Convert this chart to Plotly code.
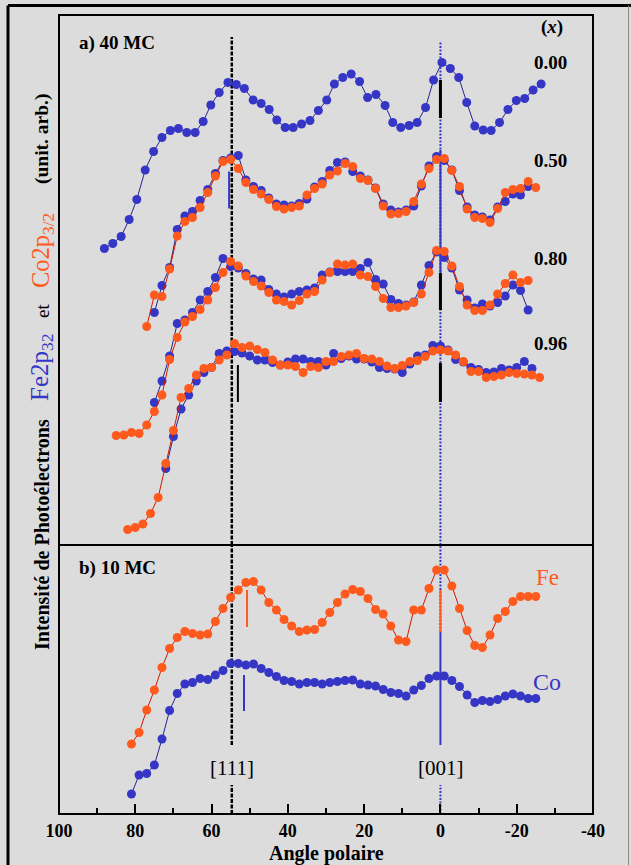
import plotly.graph_objects as go

# ---------------------------------------------------------------
# Polar-angle scans of Fe2p3/2 and Co2p3/2 photoelectron intensity
# ---------------------------------------------------------------

# a) 40 MC, x = 0.00 (Fe only)
ang_000 = [88.1, 85.9, 83.7, 81.6, 79.6, 77.4, 75.2, 73.0, 70.8, 68.7,
           66.5, 64.3, 62.2, 60.2, 58.0, 55.7, 53.5, 51.4, 49.1, 47.0,
           44.9, 42.9, 40.7, 38.6, 36.4, 34.2, 32.0, 29.8, 27.8, 25.6,
           23.4, 21.2, 19.1, 16.9, 14.5, 12.5, 10.4, 8.2, 6.1, 3.9,
           1.8, -0.4, -2.6, -4.8, -6.9, -9.0, -11.2, -13.3, -15.5, -17.7,
           -19.9, -22.1, -24.3, -26.4]
fe_000 = [59.3, 60.3, 61.7, 65.1, 69.1, 75.0, 78.7, 81.5, 82.9, 83.3,
          82.5, 82.5, 84.7, 88.0, 90.5, 92.5, 92.1, 91.3, 89.0, 88.3,
          87.1, 85.0, 83.5, 83.5, 84.2, 84.9, 86.9, 89.0, 92.2, 93.5,
          94.2, 92.7, 89.5, 90.1, 87.9, 84.5, 83.5, 83.9, 84.5, 87.5,
          93.0, 96.5, 95.3, 93.5, 88.5, 83.8, 83.0, 82.9, 84.5, 87.1,
          88.9, 89.3, 91.0, 92.2]

# x = 0.50
ang_050_co = [77, 75, 73, 71, 69, 67, 65, 63, 61, 59, 57, 55, 53, 51, 49, 47, 45, 43,
              41, 39, 37, 35, 33, 31, 29, 27, 25, 23, 21, 19, 17, 15, 13, 11, 9, 7,
              5, 3, 1, -1, -3, -5, -7, -9, -11, -13, -15, -17, -19, -21, -23, -25]
co_050 = [43.7, 50.0, 49.7, 55.2, 61.8, 64.7, 65.5, 67.5, 70.5, 73.8,
          76.7, 77.1, 75.3, 72.5, 71.1, 70.2, 69.1, 67.7, 67.2, 67.5,
          67.8, 70.0, 71.3, 72.2, 74.0, 74.8, 76.3, 75.7, 73.3, 72.9,
          71.3, 67.8, 66.2, 66.3, 66.7, 68.7, 72.2, 75.3, 77.1, 77.3,
          74.9, 71.7, 67.2, 65.5, 65.3, 64.5, 67.3, 70.5, 71.1, 71.3,
          72.7, 71.5]
ang_050_fe = [75, 73, 71, 69, 67, 65, 63, 61, 59, 57, 55, 53, 51, 49, 47, 45, 43,
              41, 39, 37, 35, 33, 31, 29, 27, 25, 23, 21, 19, 17, 15, 13, 11, 9, 7,
              5, 3, 1, -1, -3, -5, -7, -9, -11, -13, -15, -17, -19, -21, -23]
fe_050 = [46.5, 51.9, 55.5, 63.1, 65.8, 66.7, 68.9, 71.1, 74.3, 76.9,
          77.4, 77.9, 73.0, 71.7, 70.9, 69.4, 68.2, 68.0, 67.8, 68.3,
          69.2, 71.6, 72.7, 74.9, 76.5, 76.6, 74.7, 73.8, 73.0, 71.4,
          68.2, 67.0, 66.6, 67.0, 67.8, 71.8, 75.8, 77.7, 76.9, 75.0,
          70.9, 67.6, 66.0, 65.6, 65.0, 67.6, 68.7, 70.2, 70.0, 71.7]

# x = 0.80
ang_080_co = [85, 83, 81, 79, 77, 75, 73, 71, 69, 67, 65, 63, 61, 59, 57, 55, 53, 51,
              49, 47, 45, 43, 41, 39, 37, 35, 33, 31, 29, 27, 25, 23, 21, 19, 17, 15,
              13, 11, 9, 7, 5, 3, 1, -1, -3, -5, -7, -9, -11, -13, -15, -17, -19, -21, -23]
co_080 = [21.9, 22.0, 22.5, 22.3, 24.0, 26.7, 30.0, 37.1, 41.5, 44.6,
          45.7, 47.1, 49.0, 51.5, 54.5, 56.7, 55.8, 53.8, 52.7, 51.8,
          50.5, 49.0, 48.7, 48.0, 48.9, 50.2, 50.7, 53.0, 54.5, 56.2,
          56.0, 56.2, 54.0, 53.7, 51.7, 49.3, 47.5, 47.5, 47.8, 48.5,
          50.2, 54.5, 58.9, 58.7, 55.8, 51.7, 48.0, 46.9, 46.9, 48.0,
          50.2, 52.3, 54.0, 52.5, 52.9]
ang_080_fe = [75, 73, 71, 69, 67, 65, 63, 61, 59, 57, 55, 53, 51, 49, 47, 45, 43,
              41, 39, 37, 35, 33, 31, 29, 27, 25, 23, 21, 19, 17, 15, 13, 11, 9, 7,
              5, 3, 1, -1, -3, -5, -7, -9, -11, -13, -15, -17, -19, -21, -23]
fe_080 = [28.5, 32.8, 37.8, 44.3, 45.0, 46.5, 49.0, 50.7, 53.5, 57.3,
          55.7, 55.4, 54.3, 53.2, 53.0, 51.1, 50.2, 49.6, 50.2, 50.7,
          51.0, 51.4, 54.0, 54.6, 54.7, 54.7, 54.7, 55.3, 56.5, 53.1,
          52.2, 49.1, 48.3, 48.0, 48.6, 52.0, 55.9, 58.6, 57.5, 55.4,
          51.0, 49.0, 47.4, 48.2, 47.8, 48.5, 49.8, 52.0, 50.9, 47.0]

# x = 0.96
ang_096_co = [82, 80, 78, 76, 74, 72, 70, 68, 66, 64, 62, 60, 58, 56, 54, 52, 50, 48,
              46, 44, 42, 40, 38, 36, 34, 32, 30, 28, 26, 24, 22, 20, 18, 16, 14, 12,
              10, 8, 6, 4, 2, 0, -2, -4, -6, -8, -10, -12, -14, -16, -18, -20, -22, -24, -26]
co_096 = [3.1, 3.5, 4.2, 6.3, 9.5, 16.3, 22.9, 29.5, 31.3, 34.0,
          35.3, 35.5, 37.0, 38.0, 40.3, 39.5, 39.8, 39.1, 38.5, 37.0,
          36.0, 36.0, 35.7, 34.5, 35.7, 35.5, 36.7, 36.7, 37.7, 38.0,
          38.3, 37.3, 37.2, 36.7, 35.8, 35.3, 35.9, 36.7, 36.9, 37.7,
          38.8, 39.0, 38.8, 38.0, 36.7, 34.7, 34.7, 33.5, 33.7, 34.0,
          34.5, 34.3, 34.2, 34.0, 33.5]
ang_096_fe = [72, 70, 68, 66, 64, 62, 60, 58, 56, 54, 52, 50, 48, 46, 44, 42, 40, 38,
              36, 34, 32, 30, 28, 26, 24, 22, 20, 18, 16, 14, 12, 10, 8, 6, 4, 2, 0,
              -2, -4, -6, -8, -10, -12, -14, -16, -18, -20, -22, -24]
fe_096 = [15.3, 21.7, 27.2, 30.0, 32.8, 34.5, 35.5, 38.3, 38.8, 38.7,
          38.4, 37.8, 37.0, 37.0, 36.5, 36.0, 36.6, 37.2, 37.2, 36.7,
          36.7, 36.0, 38.3, 37.3, 37.8, 37.2, 37.2, 36.6, 35.5, 35.3,
          35.2, 34.5, 36.2, 37.8, 38.0, 39.9, 39.8, 39.0, 37.1, 36.6,
          35.5, 35.1, 34.5, 34.6, 35.3, 35.0, 35.5, 36.7, 35.3]

# b) 10 MC
ang_b = [81, 79, 77, 75, 73, 71, 69, 67, 65, 63, 61, 59, 57, 55, 53, 51, 49, 47,
         45, 43, 41, 39, 37, 35, 33, 31, 29, 27, 25, 23, 21, 19, 17, 15, 13, 11,
         9, 7, 5, 3, 1, -1, -3, -5, -7, -9, -11, -13, -15, -17, -19, -21, -23, -25]
fe_b = [14.0, 16.3, 20.8, 24.8, 29.3, 33.1, 35.3, 36.5, 36.1, 35.8,
        36.0, 38.5, 41.1, 43.3, 44.8, 46.3, 46.5, 44.8, 42.3, 40.8,
        38.9, 37.6, 36.5, 36.8, 36.9, 38.3, 40.3, 42.3, 44.0, 44.9,
        44.5, 43.1, 40.9, 40.0, 37.6, 34.8, 34.5, 40.8, 40.8, 45.1,
        48.8, 48.8, 45.6, 41.1, 36.7, 33.7, 33.3, 35.8, 39.1, 40.5,
        42.5, 43.5, 43.5, 43.5]
co_b = [4.0, 7.8, 8.1, 9.8, 15.0, 20.7, 24.1, 26.0, 26.3, 27.1,
        26.9, 27.8, 28.7, 30.1, 30.1, 29.8, 30.0, 29.1, 28.3, 27.5,
        26.7, 26.5, 26.0, 26.3, 26.3, 26.0, 26.3, 26.5, 26.7, 26.8,
        26.0, 25.8, 25.6, 24.9, 24.3, 24.1, 23.6, 24.8, 25.7, 27.1,
        27.6, 27.6, 26.7, 25.5, 23.8, 22.3, 22.7, 22.5, 22.9, 23.6,
        24.0, 23.6, 23.1, 23.1]

# crystallographic directions (polar angle) and composition labels
dir_angles = [54.7, 0.0]
dir_labels = ["[111]", "[001]"]
compositions = ["0.00", "0.50", "0.80", "0.96"]
x_ticks = [100, 80, 60, 40, 20, 0, -20, -40]

# short peak-position bars
peak_bars_angle = [55.4, 53.1, 50.7, 51.5]
peak_bars_low = [67.3, 28.6, 37.4, 20.6]
peak_bars_high = [74.7, 36.0, 44.8, 27.8]
# intensity windows of solid segments drawn on the [001] direction in panel a
dir001_black_low = [85.4, 47.0, 28.6]
dir001_black_high = [93.0, 54.4, 36.4]

BLUE = "#3636c6"
BLUE_LINE = "#25258f"
ORANGE = "#ff5a1e"
ORANGE_LINE = "#d01a00"
BG = "#dcdcdc"
SERIF = "Liberation Serif"

# plot geometry (pixels)
W, H = 631, 865
L, R, T, B = 59, 38, 15, 51
PW, PH = W - L - R, H - T - B
SPLIT = 269 / PH  # height fraction of panel b


def px(xp):
    return (xp - L) / PW


def py(yp):
    return (H - B - yp) / PH


fig = go.Figure()


def add_series(x, y, color, lcolor, axis):
    fig.add_trace(go.Scatter(
        x=x, y=y, mode="lines+markers", yaxis=axis, showlegend=False,
        line=dict(color=lcolor, width=1),
        marker=dict(color=color, size=9, line=dict(width=0)),
        cliponaxis=False,
    ))


add_series(ang_000, fe_000, BLUE, BLUE_LINE, "y")
add_series(ang_050_fe, fe_050, BLUE, BLUE_LINE, "y")
add_series(ang_050_co, co_050, ORANGE, ORANGE_LINE, "y")
add_series(ang_080_fe, fe_080, BLUE, BLUE_LINE, "y")
add_series(ang_080_co, co_080, ORANGE, ORANGE_LINE, "y")
add_series(ang_096_fe, fe_096, BLUE, BLUE_LINE, "y")
add_series(ang_096_co, co_096, ORANGE, ORANGE_LINE, "y")
add_series(ang_b, co_b, BLUE, BLUE_LINE, "y2")
add_series(ang_b, fe_b, ORANGE, ORANGE_LINE, "y2")

shapes = []


def vline(x, y0, y1, yref, color, width, dash="solid"):
    shapes.append(dict(type="line", xref="x", yref=yref, x0=x, x1=x, y0=y0, y1=y1,
                       line=dict(color=color, width=width, dash=dash), layer="below"))


A_TOP, B_TOP = 106, 269 / 5
d111, d001 = dir_angles
# [111] direction: dense dashed black line, interrupted by its label
vline(d111, 0, 101.6, "y", "black", 2.5, "4px,1.5px")
vline(d111, 13.8, B_TOP, "y2", "black", 2.5, "4px,1.5px")
vline(d111, 0, 5.8, "y2", "black", 2.5, "4px,1.5px")
# [001] direction: dotted blue line with solid portions
vline(d001, 0, 100.6, "y", BLUE, 2, "2px,1.5px")
vline(d001, 54.4, 79.0, "y", BLUE, 2)
for lo, hi in zip(dir001_black_low, dir001_black_high):
    vline(d001, lo, hi, "y", "black", 3)
vline(d001, 36.4, B_TOP, "y2", BLUE, 2, "2px,1.5px")
vline(d001, 13.8, 36.4, "y2", BLUE, 2)
vline(d001, 36.4, 44.8, "y2", ORANGE, 2)
vline(d001, 0, 5.8, "y2", BLUE, 2, "2px,1.5px")
# peak bars
bar_axes = ["y", "y", "y2", "y2"]
bar_cols = [BLUE, "black", ORANGE, BLUE]
for a, lo, hi, ax, c in zip(peak_bars_angle, peak_bars_low, peak_bars_high, bar_axes, bar_cols):
    vline(a, lo, hi, ax, c, 2)

# frame of the two panels
shapes.append(dict(type="rect", xref="paper", yref="paper", x0=0, x1=1, y0=0, y1=1,
                   line=dict(color="black", width=2), layer="above"))
shapes.append(dict(type="line", xref="paper", yref="paper", x0=0, x1=1, y0=SPLIT, y1=SPLIT,
                   line=dict(color="black", width=2), layer="above"))
# outer border of the figure
shapes.append(dict(type="line", xref="paper", yref="paper", x0=px(8), x1=px(631),
                   y0=py(5.5), y1=py(5.5), line=dict(color="black", width=3)))
shapes.append(dict(type="line", xref="paper", yref="paper", x0=px(8), x1=px(8),
                   y0=py(5.5), y1=py(870), line=dict(color="black", width=3)))
shapes.append(dict(type="line", xref="paper", yref="paper", x0=px(628.5), x1=px(628.5),
                   y0=py(5.5), y1=py(870), line=dict(color="#888888", width=1)))

annotations = []


def label(text, xp, yp, size, color="black", bold=True, xanchor="center", angle=0):
    annotations.append(dict(
        text=text, x=px(xp), y=py(yp), xref="paper", yref="paper",
        xanchor=xanchor, yanchor="middle", showarrow=False, textangle=angle,
        font=dict(family=SERIF, size=size, color=color, weight="bold" if bold else "normal"),
    ))


label("a) 40 MC", 77, 43, 19, xanchor="left")
label("b) 10 MC", 77, 568, 19, xanchor="left")
label("(<i>x</i>)", 552, 27, 19)
for comp, yp in zip(compositions, [62, 160, 258, 343]):
    label(comp, 550, yp, 19)
label("Fe", 547, 577, 23, ORANGE, bold=False)
label("Co", 547, 682, 24, BLUE, bold=False)
label(dir_labels[0], 232, 768, 21, bold=False)
label(dir_labels[1], 441, 768, 21, bold=False)
label("Angle polaire", 326, 853, 20)

# vertical axis title assembled from differently styled pieces
label("Intensité de Photoélectrons", 42, 535, 20, angle=-90)
label("Fe2p<sub>32</sub>", 42, 367, 25, BLUE, bold=False, angle=-90)
label("et", 42, 311, 19, bold=False, angle=-90)
label("Co2p<sub>3/2</sub>", 42, 251, 24.5, ORANGE, bold=False, angle=-90)
label("(unit. arb.)", 42, 139, 19.5, angle=-90)

fig.update_layout(
    width=W, height=H, autosize=False,
    margin=dict(l=L, r=R, t=T, b=B),
    paper_bgcolor=BG, plot_bgcolor=BG,
    shapes=shapes, annotations=annotations,
    xaxis=dict(
        range=[100, -40], anchor="y2", showgrid=False, zeroline=False, showline=False,
        tickvals=x_ticks, ticktext=[str(v) for v in x_ticks],
        ticks="inside", ticklen=10, tickwidth=2, tickcolor="black",
        minor=dict(ticks="inside", ticklen=6, tickwidth=2, tickcolor="black",
                   tickvals=[90, 70, 50, 30, 10, -10, -30]),
        tickfont=dict(family=SERIF, size=18, color="black", weight="bold"),
        ticklabelstandoff=4,
    ),
    yaxis=dict(domain=[SPLIT, 1], range=[0, A_TOP], visible=False, anchor="x"),
    yaxis2=dict(domain=[0, SPLIT], range=[0, B_TOP], visible=False, anchor="x"),
)

fig.write_html("out.html")
